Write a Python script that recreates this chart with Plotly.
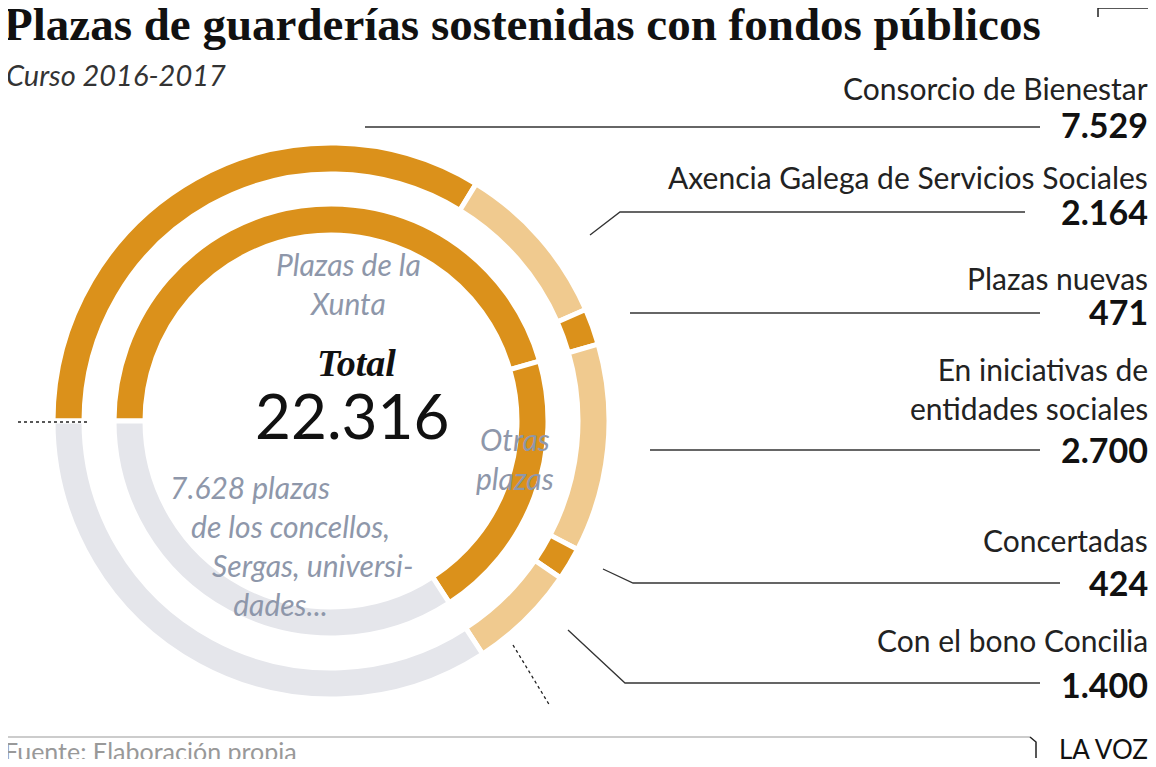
import plotly.graph_objects as go

W, H = 1156, 767
OFF = 8  # default body margin of the page
FW, FH = W - 2 * OFF, H - 2 * OFF

outer_labels = ["Consorcio de Bienestar", "Axencia Galega de Servicios Sociales", "Plazas nuevas",
                "En iniciativas de entidades sociales", "Concertadas", "Con el bono Concilia", "Otros"]
outer_values = [7529, 2164, 471, 2700, 424, 1400, 7628]
outer_colors = ["#DB911B", "#F0CA8F", "#DB911B", "#F0CA8F", "#DB911B", "#F0CA8F", "#E5E6EB"]

inner_labels = ["Plazas de la Xunta", "Otras plazas", "Concellos, Sergas, universidades"]
inner_values = [10164, 4524, 7628]
inner_colors = ["#DB911B", "#DB911B", "#E5E6EB"]

value_text = ["7.529", "2.164", "471", "2.700", "424", "1.400"]
label_text = ["Consorcio de Bienestar", "Axencia Galega de Servicios Sociales", "Plazas nuevas",
              "En iniciativas de<br>entidades sociales", "Concertadas", "Con el bono Concilia"]


def px(x):
    return (x - OFF) / FW


def py(y):
    return 1 - (y - OFF) / FH


def dom(cx, cy, r):
    return dict(x=[px(cx - r), px(cx + r)], y=[py(cy + r), py(cy - r)])


fig = go.Figure()
for labels, values, colors, r, w in [(outer_labels, outer_values, outer_colors, 278, 31),
                                     (inner_labels, inner_values, inner_colors, 217, 31)]:
    fig.add_trace(go.Pie(labels=labels, values=values, sort=False, direction="clockwise",
                         rotation=270, hole=(r - w) / r, domain=dom(331, 421, r),
                         marker=dict(colors=colors, line=dict(color="white", width=5)),
                         textinfo="none", hoverinfo="label+value", showlegend=False))

SANS = "Lato, Roboto, sans-serif"
SERIF = "Liberation Serif, DejaVu Serif, serif"
ann = []


def text(x, y, s, size, color="#222", anchor="left", bold=False, italic=False, family=SANS):
    if bold:
        s = "<b>" + s + "</b>"
    if italic:
        s = "<i>" + s + "</i>"
    ann.append(dict(x=px(x), y=py(y), xref="paper", yref="paper", text=s, showarrow=False,
                    xanchor=anchor, yanchor="middle", align=anchor,
                    font=dict(size=size, color=color, family=family)))


text(2, 24, "Plazas de guarderías sostenidas con fondos públicos", 47, "#111", bold=True, family=SERIF)
text(4, 75, "Curso 2016-2017", 29, "#333", italic=True)

label_y = [88, 177, 278, 388, 540, 640]
value_y = [124, 211, 311, 449, 582, 684]
for lab, ly, v, vy in zip(label_text, label_y, value_text, value_y):
    text(1150, ly, lab, 30, "#222", anchor="right")
    text(1150, vy, v, 34, "#111", anchor="right", bold=True)

text(356, 363, "Total", 38, "#111", anchor="center", italic=True, bold=True, family=SERIF)
text(352, 415, "22.316", 62, "#111", anchor="center")
text(348, 283, "Plazas de la<br>Xunta", 30, "#8E97AA", anchor="center", italic=True)
text(515, 458, "Otras<br>plazas", 30, "#8E97AA", anchor="center", italic=True)
text(168, 545, "7.628 plazas<br>   de los concellos,<br>      Sergas, universi-<br>         dades...",
     30, "#8E97AA", anchor="left", italic=True)
text(2, 751, "Fuente: Elaboración propia", 25, "#999")
text(1150, 749, "LA VOZ", 26, "#111", anchor="right")

shapes = []


def path(points, color="#333", width=1.3, dash="solid"):
    d = "M " + " L ".join(f"{px(x)},{py(y)}" for x, y in points)
    shapes.append(dict(type="path", path=d, xref="paper", yref="paper",
                       line=dict(color=color, width=width, dash=dash)))


path([(365, 127), (1040, 127)])
path([(590, 235), (620, 212), (1025, 212)])
path([(630, 313), (1040, 313)])
path([(650, 450), (1040, 450)])
path([(603, 569), (633, 583), (1060, 583)])
path([(568, 630), (625, 683), (1040, 683)])
path([(18, 422), (90, 422)], "#222", 1.3, "dot")
path([(513, 645), (550, 706)], "#222", 1.3, "dot")
path([(1098, 17), (1098, 8), (1150, 8)], "#222", 1.5)
path([(0, 737), (1030, 737)], "#BBB", 1.5)
path([(1030, 737), (1036, 742), (1036, 758)], "#222", 1.5)

fig.update_layout(width=FW, height=FH, margin=dict(l=0, r=0, t=0, b=0),
                  paper_bgcolor="white", plot_bgcolor="white",
                  annotations=ann, shapes=shapes)
fig.write_html("out.html")
